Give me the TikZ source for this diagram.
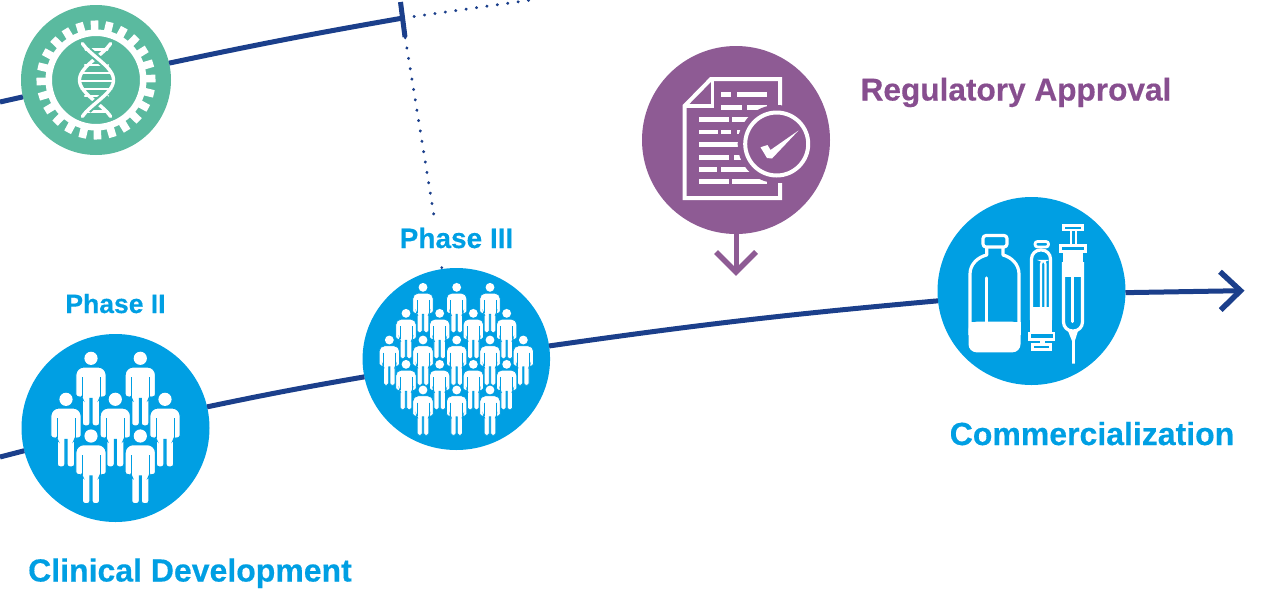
\documentclass[tikz,border=0pt]{standalone}
\usepackage{fontspec}
\usetikzlibrary{shapes.geometric}
\setmainfont{Liberation Sans}[BoldFeatures={FakeBold=0.4}]
\definecolor{cblue}{HTML}{009FE3}
\definecolor{cnavy}{HTML}{1B3F8B}
\definecolor{cgreen}{HTML}{5ABA9F}
\definecolor{cpurple}{HTML}{8E5B94}
\definecolor{tpurple}{HTML}{874E8F}
\tikzset{
  disc/.style={circle,minimum size=#1,inner sep=0pt,outer sep=0pt},
  mainline/.style={cnavy,line width=5pt},
  dotline/.style={cnavy,line width=3pt,line cap=round,dash pattern=on 0.3pt off 10.2pt},
  biglabel/.style={text=cblue,font=\bfseries\fontsize{32}{36}\selectfont,anchor=base,inner sep=0pt},
  smalllabel/.style={text=cblue,font=\bfseries\fontsize{26.5}{30}\selectfont,anchor=base,inner sep=0pt},
  icon/.style={draw=white,line width=3.2pt,line join=round},
  iconthin/.style={draw=white,line width=2.8pt,line join=miter},
}
\newcommand{\personicon}[3]{%
  \begin{scope}[shift={(#1,#2)},scale=#3]
    \pgfmathsetmacro{\ra}{8*#3}
    \pgfmathsetmacro{\rb}{2.6*#3}
    \pgfmathsetmacro{\lw}{1.1*#3}
    \pgfmathsetmacro{\gw}{0.8*#3}
    \fill[white] (0,0) circle[radius=6.6];
    \filldraw[white,draw=cblue,line width=\lw pt]
      [rounded corners=\ra pt] (-15.2,28) -- (-15.2,8.7) -- (15.2,8.7) -- (15.2,28)
      [rounded corners=\rb pt] -- (15.2,38.6) -- (9.2,38.6) -- (8.6,40) -- (8.6,67.6) -- (1,67.6)
      [sharp corners] -- (1,40) -- (-1,40)
      [rounded corners=\rb pt] -- (-1,67.6) -- (-8.6,67.6) -- (-8.6,40) -- (-9.2,38.6) -- (-15.2,38.6) -- cycle;
    \draw[cblue,line width=\gw pt] (-9,19) -- (-9,39) (9,19) -- (9,39);
  \end{scope}}
\begin{document}
\begin{tikzpicture}[x=1pt,y=-1pt]
\useasboundingbox (0,0) rectangle (1263,592);
% discs
\node[disc=150pt,fill=cgreen] (gene) at (96,80) {};
\node[disc=188pt,fill=cblue] (ph2) at (115.5,428) {};
\node[ellipse,minimum width=187.5pt,minimum height=182pt,inner sep=0pt,outer sep=0pt,fill=cblue] (ph3) at (456.3,359) {};
\node[disc=188pt,fill=cblue] (comm) at (1031.5,291) {};
\node[disc=188pt,fill=cpurple] (reg) at (736,140) {};
% free ends
\coordinate (topstart) at (0,102);
\coordinate (tick) at (403,18);
\coordinate (ticka) at (400.5,2);
\coordinate (tickb) at (405,37);
\coordinate (botstart) at (0,457);
\coordinate (tip) at (1240.5,290.7);
\coordinate (barba) at (1220,271.7);
\coordinate (barbb) at (1220.7,310);
\coordinate (dotsa) at (414,16.5);
\coordinate (dotsb) at (531,0);
\coordinate (dotsc) at (405.2,37.5);
\coordinate (dotsd) at (434,216);
\coordinate (arrowtip) at (736,272);
\coordinate (arrowl) at (716,252);
\coordinate (arrowr) at (756,252);
% connectors
\draw[mainline] (topstart) -- (gene.193);
\draw[mainline] (gene.13) to[bend left=1] (tick);
\draw[mainline] (ticka) -- (tickb);
\draw[mainline] (botstart) -- (ph2.194);
\draw[mainline] (ph2.13) to[bend left=1] (ph3.191);
\draw[mainline] (ph3.8) to[bend left=1.5] (comm.186);
\draw[mainline] (comm.359) -- (tip);
\draw[mainline,line width=5.5pt,line join=miter] (barba) -- (tip) -- (barbb);
\draw[dotline] (dotsa) -- (dotsb);
\draw[dotline] (dotsc) -- (dotsd);
\fill[cnavy] (441.8,267.6) circle[radius=1.5pt];
\draw[cpurple,line width=5pt] (reg) -- (arrowtip);
\draw[cpurple,line width=5.5pt,line join=miter] (arrowl) -- (arrowtip) -- (arrowr);
% gear
\fill[white,even odd rule] (96,80) circle[radius=50.5pt] (96,80) circle[radius=44pt];
\foreach \a in {0,15,...,345}{
  \begin{scope}[shift={(96,80)},rotate=\a+1.5]
    \fill[white] (-3.8,-59.5) rectangle (3.8,-49);
  \end{scope}}
% dna
\begin{scope}[line cap=round]
\foreach \yy/\hw in {49.5/11,65/11.5,73/15,81/16,89/15,96/11.5,111.5/11}{
  \draw[white,line width=2.2pt] (96.5-\hw,\yy) -- (96.5+\hw,\yy);}
\draw[white,line width=3.4pt] plot[smooth,domain=43.5:116.5,samples=40,variable=\t] ({96.5-17*cos(4*(\t-80))},\t);
\draw[cgreen,line width=7.5pt,line cap=butt] plot[smooth,domain=50:66,samples=12,variable=\t] ({96.5+17*cos(4*(\t-80))},\t);
\draw[cgreen,line width=7.5pt,line cap=butt] plot[smooth,domain=94:110,samples=12,variable=\t] ({96.5+17*cos(4*(\t-80))},\t);
\draw[white,line width=3.4pt] plot[smooth,domain=43.5:116.5,samples=40,variable=\t] ({96.5+17*cos(4*(\t-80))},\t);
\end{scope}
% people, phase II
\foreach \px/\py in {91/358.3,140.3/358.3,66/399.3,115.3/399.3,165/399.3,91/436,140.3/436}{
  \personicon{\px}{\py}{1}}
% people, phase III
\foreach \zx/\zy in {189/82,290/82,390/82,138/160,239/160,340/160,440/160,88/240,189/240,290/240,390/240,490/240,138/313,239/313,340/313,440/313,189/390,290/390,390/390}{
  \pgfmathsetmacro{\px}{360+\zx/3}
  \pgfmathsetmacro{\py}{260+\zy/3}
  \personicon{\px}{\py}{0.67}}
% document
\draw[white,line width=4pt,line join=miter]
  (780,106) -- (780,79) -- (711,79) -- (684.5,106) -- (684.5,198) -- (780,198) -- (780,183);
\draw[white,line width=3.5pt] (712.7,79) -- (712.7,106) -- (684.5,106);
\foreach \zy/\za/\zb in {163/272/302,163/320/410,202/272/335,202/350/410,238/206/296,238/306/380,276/206/264,276/272/302,276/320/345,314/206/327,352/206/298,352/313/333,388/206/260,388/274/380,424/206/296,424/306/410}{
  \fill[white] (630+\za/3,40+\zy/3-2.4) rectangle (630+\zb/3,40+\zy/3+2.4);}
\fill[cpurple] (776.7,144) circle[radius=39pt];
\draw[white,line width=4pt] (776.7,144) circle[radius=31.5pt];
\fill[white] (760.5,147.3) -- (767.5,145) -- (770.5,150) -- (798.5,130.5) -- (772,158.5) -- (767,158) -- cycle;
% bottle
\fill[white,rounded corners=8pt] (968.5,321.7) rectangle (1020.5,352.3);
\fill[white] (968.5,321.7) rectangle (1020.5,335);
\draw[icon] (970,335) -- (970,274) .. controls (970,264) and (978,257) .. (986.7,255) -- (986.7,247)
  (1003,247) -- (1003,255) .. controls (1011,257) and (1019,264) .. (1019,274) -- (1019,335);
\draw[icon,rounded corners=3pt] (983,235.5) rectangle (1007,247);
\draw[white,line width=3.2pt,line cap=round] (986.7,278) -- (986.7,322);
% middle syringe
\fill[white] (1030,306.7) rectangle (1052,332);
\draw[icon,rounded corners=9pt] (1031.5,320) -- (1031.5,250) -- (1050.5,250) -- (1050.5,320);
\draw[white,line width=2.8pt,rounded corners=2.5pt] (1035,247) rectangle (1048.5,241.5);
\draw[white,line width=2.2pt,rounded corners=3pt] (1041,307) -- (1041,261) -- (1045.5,261) -- (1045.5,307);
\draw[iconthin] (1029.5,333) rectangle (1054,339.5);
\fill[white] (1039.5,340) rectangle (1044.5,344);
\draw[iconthin] (1032.8,344.5) rectangle (1050.8,349.5);
% right syringe
\draw[iconthin] (1063.8,225.5) rectangle (1082.3,230);
\draw[iconthin] (1071,230) -- (1071,244.5) (1076,230) -- (1076,244.5);
\draw[iconthin] (1060.5,245.5) rectangle (1085.5,251.5);
\fill[white] (1063,252) rectangle (1083,276.7);
\draw[icon,rounded corners=9pt] (1063.5,262) -- (1063.5,331) -- (1082.5,331) -- (1082.5,262);
\draw[white,line width=3.2pt,line cap=round] (1072.5,277) -- (1072.5,321.5);
\fill[white] (1068,331) -- (1078,331) -- (1074.8,341) -- (1074.8,363.5) -- (1072,363.5) -- (1072,341) -- cycle;
% labels
\node[biglabel] (lclin) at (190,581.5) {Clinical Development};
\node[biglabel] (lcomm) at (1092,445) {Commercialization};
\node[biglabel,text=tpurple,font=\bfseries\fontsize{31.6}{36}\selectfont] (lreg) at (1016,100.5) {Regulatory Approval};
\node[smalllabel] (lp2) at (115.5,313) {Phase II};
\node[smalllabel,font=\bfseries\fontsize{28}{30}\selectfont] (lp3) at (456.5,248) {Phase III};
\end{tikzpicture}
\end{document}
